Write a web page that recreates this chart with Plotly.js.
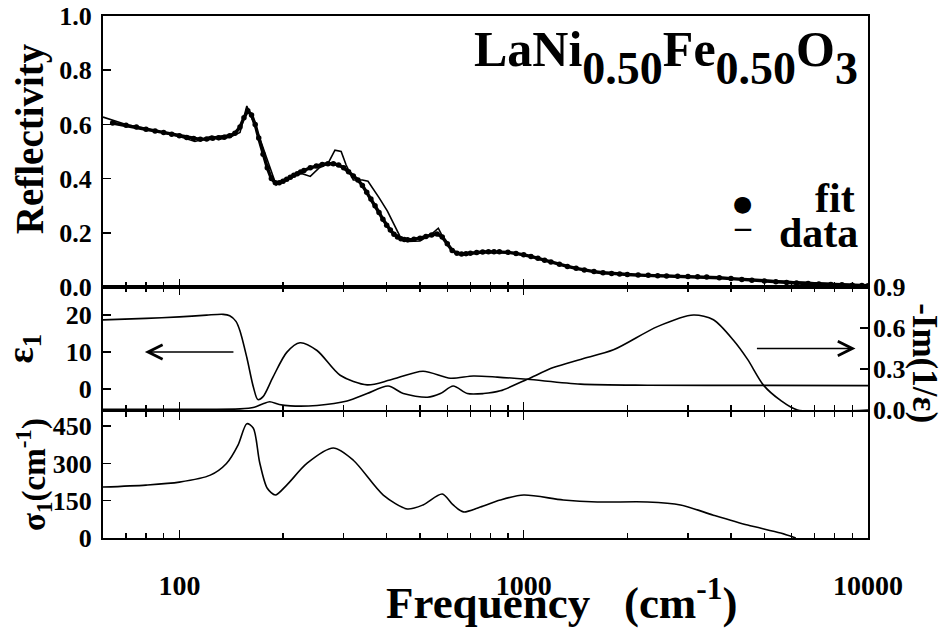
<!DOCTYPE html>
<html>
<head>
<meta charset="utf-8">
<script src="https://cdn.plot.ly/plotly-3.0.1.min.js"></script>
<style>html,body{margin:0;padding:0;background:#fff;}#chart{width:948px;height:630px;}</style>
</head>
<body>
<div id="chart"></div>
<script>
// Reflectivity, measured data (line)
const freqR = [60,70,80,90,100,111,117,124,130,140,150,157,163,170,180,191,200,210,225,240,255,270,283,295,305,320,340,353,380,402,438,459,500,540,565,590,632,700,838,1000,1194,1670,2500,3260,5000,7000,10000];
const reflData = [0.627,0.60,0.585,0.57,0.555,0.537,0.545,0.557,0.545,0.553,0.57,0.668,0.62,0.56,0.47,0.376,0.39,0.405,0.42,0.408,0.44,0.455,0.505,0.5,0.45,0.395,0.395,0.39,0.33,0.28,0.185,0.168,0.17,0.195,0.217,0.17,0.125,0.125,0.13,0.12,0.092,0.05,0.043,0.038,0.025,0.015,0.005];

// Reflectivity, fit (dots)
const freqFit = [64,70,75,80,85,90,95,100,105,110,115,120,125,130,135,140,145,150,154,158,162,166,170,175,180,185,190,195,200,205,210,215,220,225,230,240,250,260,270,280,290,300,310,320,330,340,350,360,370,380,390,400,410,420,430,440,450,460,480,500,520,540,560,580,600,620,640,660,680,700,730,760,790,820,850,900,950,1000,1050,1100,1150,1200,1270,1340,1420,1500,1600,1700,1800,1900,2000,2150,2300,2450,2600,2800,3000,3200,3400,3700,4000,4300,4600,5000,5400,5800,6200,6700,7200,7800,8400,9000,9600,10000];
const reflFit = [0.605,0.597,0.59,0.582,0.576,0.57,0.564,0.558,0.552,0.548,0.545,0.546,0.549,0.551,0.553,0.558,0.567,0.59,0.625,0.65,0.635,0.6,0.55,0.49,0.44,0.40,0.385,0.385,0.39,0.398,0.405,0.412,0.418,0.424,0.43,0.44,0.447,0.452,0.455,0.455,0.45,0.44,0.425,0.41,0.395,0.375,0.35,0.325,0.3,0.275,0.25,0.228,0.21,0.195,0.185,0.178,0.175,0.174,0.176,0.18,0.186,0.192,0.196,0.185,0.16,0.135,0.125,0.122,0.123,0.125,0.127,0.129,0.13,0.13,0.13,0.128,0.124,0.119,0.113,0.106,0.099,0.092,0.084,0.076,0.069,0.063,0.057,0.053,0.05,0.048,0.046,0.044,0.043,0.042,0.041,0.04,0.039,0.038,0.037,0.034,0.031,0.028,0.025,0.022,0.019,0.017,0.015,0.013,0.011,0.009,0.008,0.007,0.006,0.005];

// epsilon_1 (left axis, middle panel)
const freqEps = [60,80,100,120,134,140,146,150,157,164,169,175,187,205,224,251,293,351,409,510,612,714,838,1025,1462,2287,5000,10000];
const eps1 = [18.7,19.1,19.5,20.0,20.2,19.8,18.3,15.7,8.5,0.5,-2.9,-2.1,3.2,9.9,12.5,10.4,3.7,1.1,2.4,4.8,2.9,3.5,3.2,2.6,1.3,1.0,0.95,0.9];

// -Im(1/eps) loss function (right axis, middle panel)
const freqLoss = [60,100,150,165,175,183,195,210,251,307,351,404,447,525,573,624,686,764,855,1025,1219,1462,1823,2445,3112,3557,4066,4470,4977,5575,6240,10000];
const lossFn = [0.005,0.005,0.008,0.02,0.045,0.06,0.04,0.03,0.033,0.065,0.12,0.175,0.12,0.093,0.12,0.175,0.12,0.12,0.14,0.225,0.31,0.37,0.44,0.61,0.695,0.66,0.51,0.37,0.18,0.07,0.0,0.0];

// sigma_1 (bottom panel)
const freqSig = [60,80,100,123,137,148,157,164,171,180,190,205,235,280,320,391,459,510,580,624,668,748,855,1000,1303,1636,2287,2853,3557,4470,5575,6170];
const sigma1 = [205,213,225,253,300,374,460,442,305,200,173,213,301,362,313,173,117,133,177,133,105,125,153,173,153,145,145,133,92,52,20,0];

// axis ticks
const majorTicks = [100,1000,10000];
const majorText = ['100','1000','10000'];
const minorTicks = [60,70,80,90,200,300,400,500,600,700,800,900,2000,3000,4000,5000,6000,7000,8000,9000];

const FONT = '"Liberation Serif", "Times New Roman", Times, serif';
const xrange = [Math.log10(60), 4];

function xax(anchor, showLabels, mirror) {
  return {
    type: 'log', range: xrange, anchor: anchor,
    showline: true, linewidth: 2, linecolor: '#000', mirror: mirror,
    ticks: 'inside', ticklen: 8, tickwidth: 1.5, tickcolor: '#000',
    tickmode: 'array', tickvals: majorTicks, ticktext: majorText,
    showticklabels: showLabels,
    minor: {tickmode: 'array', tickvals: minorTicks, ticks: 'inside', ticklen: 5, tickwidth: 1.2, tickcolor: '#000', showgrid: false},
    showgrid: false, zeroline: false,
    tickfont: {family: FONT, size: 28, weight: 'bold', color: '#000'},
    ticklabelstandoff: 21
  };
}
function yax(domain, range, tickvals, ticktext, extra) {
  return Object.assign({
    domain: domain, range: range, anchor: 'x',
    showline: true, linewidth: 2, linecolor: '#000', mirror: true,
    ticks: 'inside', ticklen: 8, tickwidth: 1.5, tickcolor: '#000',
    tickmode: 'array', tickvals: tickvals, ticktext: ticktext,
    showgrid: false, zeroline: false,
    tickfont: {family: FONT, size: 26, weight: 'bold', color: '#000'},
    ticklabelstandoff: 4
  }, extra || {});
}

const traces = [
  {x: freqR, y: reflData, xaxis: 'x3', yaxis: 'y', mode: 'lines', line: {color: '#000', width: 1.6}, name: 'data', showlegend: false},
  {x: freqFit, y: reflFit, xaxis: 'x3', yaxis: 'y', mode: 'lines+markers', line: {color: '#000', width: 3.4}, marker: {color: '#000', size: 5.5}, name: 'fit', showlegend: false},
  {x: freqEps, y: eps1, xaxis: 'x2', yaxis: 'y2', mode: 'lines', line: {color: '#000', width: 1.6, shape: 'spline', smoothing: 0.8}, showlegend: false},
  {x: freqLoss, y: lossFn, xaxis: 'x2', yaxis: 'y4', mode: 'lines', line: {color: '#000', width: 1.6, shape: 'spline', smoothing: 0.8}, showlegend: false},
  {x: freqSig, y: sigma1, xaxis: 'x', yaxis: 'y3', mode: 'lines', line: {color: '#000', width: 1.6, shape: 'spline', smoothing: 0.8}, showlegend: false}
];

const sub = s => '<sub><sub><span style="font-size:46px">' + s + '</span></sub></sub>';

const layout = {
  width: 948, height: 630,
  margin: {l: 103, r: 80, t: 16, b: 92},
  paper_bgcolor: '#fff', plot_bgcolor: '#fff',
  font: {family: FONT, size: 24, color: '#000', weight: 'bold'},
  showlegend: false,
  xaxis: xax('y3', true, 'ticks'),
  xaxis2: xax('y2', false, 'ticks'),
  xaxis3: xax('y', false, true),
  yaxis: yax([0.4808, 1], [0, 1.0], [0, 0.2, 0.4, 0.6, 0.8, 1.0], ['0.0','0.2','0.4','0.6','0.8','1.0'], {anchor: 'x3'}),
  yaxis2: yax([0.2453, 0.4808], [-5.7, 27.6], [0, 10, 20], ['0','10','20'], {anchor: 'x2'}),
  yaxis3: yax([0, 0.2413], [0, 507], [0, 150, 300, 450], ['0','150','300','450'], {anchor: 'x', mirror: true}),
  yaxis4: {
    overlaying: 'y2', side: 'right', anchor: 'x2', range: [0, 0.9],
    showline: false, ticks: 'inside', ticklen: 8, tickwidth: 1.5, tickcolor: '#000',
    tickmode: 'array', tickvals: [0, 0.3, 0.6, 0.9], ticktext: ['0.0','0.3','0.6','0.9'],
    showgrid: false, zeroline: false,
    tickfont: {family: FONT, size: 26, weight: 'bold', color: '#000'},
    ticklabelstandoff: 4
  },
  annotations: [
    {xref: 'paper', yref: 'paper', x: 0.989, y: 0.921, xanchor: 'right', yanchor: 'middle', showarrow: false,
     text: 'LaNi' + sub('0.50') + 'Fe' + sub('0.50') + 'O' + sub('3'), font: {family: FONT, size: 50, weight: 'bold'}},
    {xref: 'paper', yref: 'paper', x: 0.836, y: 0.640, xanchor: 'center', yanchor: 'middle', showarrow: false,
     text: '●', font: {family: 'DejaVu Sans', size: 22}},
    {xref: 'paper', yref: 'paper', x: 0.985, y: 0.652, xanchor: 'right', yanchor: 'middle', showarrow: false,
     text: 'fit', font: {family: FONT, size: 42, weight: 'bold'}},
    {xref: 'paper', yref: 'paper', x: 0.836, y: 0.598, xanchor: 'center', yanchor: 'middle', showarrow: false,
     text: '–', font: {family: FONT, size: 32, weight: 'bold'}},
    {xref: 'paper', yref: 'paper', x: 0.990, y: 0.584, xanchor: 'right', yanchor: 'middle', showarrow: false,
     text: 'data', font: {family: FONT, size: 42, weight: 'bold'}},
    {xref: 'paper', yref: 'paper', x: -0.0954, y: 0.764, xanchor: 'center', yanchor: 'middle', showarrow: false, textangle: -90,
     text: 'Reflectivity', font: {family: FONT, size: 39, weight: 'bold'}},
    {xref: 'paper', yref: 'paper', x: -0.104, y: 0.364, xanchor: 'center', yanchor: 'middle', showarrow: false, textangle: -90,
     text: 'ε<sub>1</sub>', font: {family: FONT, size: 38, weight: 'bold'}},
    {xref: 'paper', yref: 'paper', x: -0.090, y: 0.121, xanchor: 'center', yanchor: 'middle', showarrow: false, textangle: -90,
     text: 'σ<sub>1</sub>(cm<sup>-1</sup>)', font: {family: FONT, size: 33, weight: 'bold'}},
    {xref: 'paper', yref: 'paper', x: 1.0745, y: 0.335, xanchor: 'center', yanchor: 'middle', showarrow: false, textangle: 90,
     text: '-Im(1/ε)', font: {family: FONT, size: 35, weight: 'bold'}},
    {xref: 'paper', yref: 'paper', x: 0.600, y: -0.118, xanchor: 'center', yanchor: 'middle', showarrow: false,
     text: 'Frequency   (cm<sup>-1</sup>)', font: {family: FONT, size: 45, weight: 'bold'}},
    {xref: 'x2', yref: 'y2', x: Math.log10(79.4), y: 10, axref: 'x2', ayref: 'y2', ax: Math.log10(145), ay: 10,
     showarrow: true, arrowhead: 5, arrowsize: 2.2, arrowwidth: 1.3, arrowcolor: '#000', text: ''},
    {xref: 'x2', yref: 'y4', x: Math.log10(9200), y: 0.45, axref: 'x2', ayref: 'y4', ax: Math.log10(4710), ay: 0.45,
     showarrow: true, arrowhead: 5, arrowsize: 2.2, arrowwidth: 1.3, arrowcolor: '#000', text: ''}
  ]
};

Plotly.newPlot('chart', traces, layout, {displayModeBar: false, staticPlot: true});
</script>
</body>
</html>
